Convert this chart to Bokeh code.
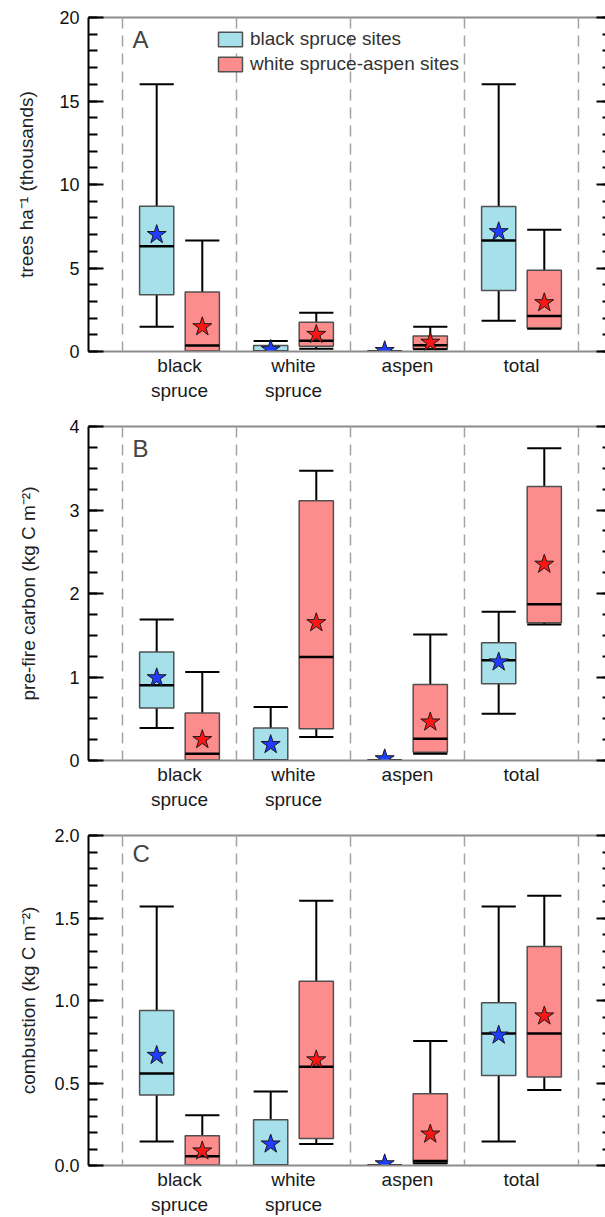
import numpy as np
from bokeh.plotting import figure
from bokeh.models import (Range1d, LinearAxis, SingleIntervalTicker, FixedTicker, Span, Label,
                          Legend, LegendItem, CustomJSTickFormatter, NumeralTickFormatter,
                          BasicTickFormatter, ColumnDataSource)
from bokeh.layouts import column
from bokeh.embed import file_html
from bokeh.resources import INLINE

# ---------------- data ----------------
categories = ["black spruce", "white spruce", "aspen", "total"]
series_names = ["black spruce sites", "white spruce-aspen sites"]

# Panel A: trees ha-1 (thousands)
a_bs_low  = [1.48, 0.00, 0.00, 1.84]
a_bs_q1   = [3.40, 0.00, 0.00, 3.66]
a_bs_med  = [6.30, 0.00, 0.00, 6.64]
a_bs_q3   = [8.70, 0.36, 0.00, 8.68]
a_bs_high = [16.0, 0.63, 0.00, 16.0]
a_bs_mean = [7.00, 0.12, 0.05, 7.17]
a_ws_low  = [0.00, 0.17, 0.14, 1.36]
a_ws_q1   = [0.00, 0.32, 0.16, 1.40]
a_ws_med  = [0.36, 0.65, 0.38, 2.13]
a_ws_q3   = [3.56, 1.75, 0.93, 4.86]
a_ws_high = [6.65, 2.32, 1.48, 7.29]
a_ws_mean = [1.48, 1.02, 0.55, 2.92]

# Panel B: pre-fire carbon (kg C m-2)
b_bs_low  = [0.39, 0.00, 0.00, 0.56]
b_bs_q1   = [0.63, 0.00, 0.00, 0.92]
b_bs_med  = [0.90, 0.00, 0.00, 1.20]
b_bs_q3   = [1.30, 0.39, 0.00, 1.41]
b_bs_high = [1.69, 0.64, 0.00, 1.78]
b_bs_mean = [0.99, 0.19, 0.02, 1.18]
b_ws_low  = [0.00, 0.28, 0.08, 1.63]
b_ws_q1   = [0.00, 0.38, 0.10, 1.65]
b_ws_med  = [0.08, 1.24, 0.26, 1.87]
b_ws_q3   = [0.57, 3.11, 0.91, 3.28]
b_ws_high = [1.06, 3.47, 1.51, 3.74]
b_ws_mean = [0.25, 1.65, 0.46, 2.35]

# Panel C: combustion (kg C m-2)
c_bs_low  = [0.146, 0.000, 0.000, 0.146]
c_bs_q1   = [0.427, 0.000, 0.000, 0.545]
c_bs_med  = [0.557, 0.000, 0.000, 0.800]
c_bs_q3   = [0.940, 0.277, 0.000, 0.986]
c_bs_high = [1.570, 0.449, 0.000, 1.570]
c_bs_mean = [0.667, 0.130, 0.010, 0.790]
c_ws_low  = [0.000, 0.130, 0.012, 0.457]
c_ws_q1   = [0.000, 0.164, 0.015, 0.537]
c_ws_med  = [0.056, 0.599, 0.028, 0.800]
c_ws_q3   = [0.180, 1.116, 0.435, 1.327]
c_ws_high = [0.305, 1.605, 0.754, 1.635]
c_ws_mean = [0.088, 0.640, 0.190, 0.906]

# ---------------- style ----------------
FONT = "Liberation Sans"
BLUE_FILL = "#a6e0ea"
RED_FILL = "#fd8d8d"
BLUE_STAR = "#1f3cff"
RED_STAR = "#ff1414"
BOX_LINE = "#505050"
GRAY = "#8c8c8c"

x_pos = list(range(1, len(categories) + 1))
boundaries = [i + 0.5 for i in range(len(categories) + 1)]
OFF = 0.2
BW = 0.3
EMPTY = CustomJSTickFormatter(code="return ''")


def panel(letter, ylab, ymax, interval, nminor, yfmt, lab_standoff, height, top, bottom,
          bs, ws, legend=False):
    p = figure(width=605, height=height, x_range=Range1d(0.2018, 4.737), y_range=Range1d(0, ymax),
               output_backend="svg", toolbar_location=None, min_border_left=88, min_border_right=0,
               min_border_top=top, min_border_bottom=bottom, outline_line_color=None,
               x_axis_location=None, y_axis_location=None,
               background_fill_color="white", border_fill_color="white")
    p.grid.visible = False

    for b in boundaries:
        p.add_layout(Span(location=b, dimension="height", line_color="#a3a3a3",
                          line_width=1.5, line_dash="11 7"))

    box_renderers = []
    star_sources = []
    xs_base = np.array(x_pos, dtype=float)
    for stats, sign, fill, star in [(bs, -1, BLUE_FILL, BLUE_STAR), (ws, 1, RED_FILL, RED_STAR)]:
        low, q1, med, q3, high, mean = stats
        xs = xs_base + sign * OFF
        src = ColumnDataSource(dict(x=xs, x0=xs - BW / 2, x1=xs + BW / 2, low=low, q1=q1,
                                    med=med, q3=q3, high=high, mean=mean))
        p.segment("x", "low", "x", "high", source=src, line_color="black", line_width=2)
        r = p.vbar(x="x", width=BW, bottom="q1", top="q3", source=src, fill_color=fill,
                   line_color=BOX_LINE, line_width=1.5)
        p.segment("x0", "med", "x1", "med", source=src, line_color="black", line_width=2.5)
        p.segment("x0", "low", "x1", "low", source=src, line_color="black", line_width=2)
        p.segment("x0", "high", "x1", "high", source=src, line_color="black", line_width=2)
        box_renderers.append(r)
        star_sources.append((src, star))
    for src, star in star_sources:
        p.scatter("x", "mean", source=src, marker="star", size=20, fill_color=star,
                  line_color="#1a1a1a", line_width=1)

    # left axis
    ya = LinearAxis(ticker=SingleIntervalTicker(interval=interval, num_minor_ticks=nminor),
                    formatter=yfmt,
                    major_tick_in=15, major_tick_out=0, minor_tick_in=9, minor_tick_out=0,
                    major_tick_line_width=2, minor_tick_line_width=2, axis_line_width=2,
                    axis_line_color="black", major_tick_line_color="black",
                    minor_tick_line_color="black", major_label_standoff=9,
                    major_label_text_font=FONT, major_label_text_font_size="18px",
                    major_label_text_color="#111111",
                    axis_label=ylab, axis_label_text_font=FONT, axis_label_text_font_size="19px",
                    axis_label_text_font_style="normal", axis_label_text_color="#222222",
                    axis_label_standoff=lab_standoff)
    p.add_layout(ya, "left")

    # right axis (ticks only)
    ra = LinearAxis(ticker=SingleIntervalTicker(interval=interval, num_minor_ticks=nminor),
                    formatter=EMPTY,
                    major_tick_in=9, major_tick_out=0, minor_tick_in=3, minor_tick_out=0,
                    major_tick_line_width=2, minor_tick_line_width=2, axis_line_color=None,
                    major_label_standoff=0)
    p.add_layout(ra, "right")

    # top border line
    ta = LinearAxis(ticker=FixedTicker(ticks=[]), major_tick_in=0, major_tick_out=0,
                    minor_tick_in=0, minor_tick_out=0, major_label_standoff=0,
                    axis_line_color=GRAY, axis_line_width=2)
    p.add_layout(ta, "above")

    # bottom axis with two-line category labels
    overrides = {x: c.replace(" ", "\n") for x, c in zip(x_pos, categories)}
    xa = LinearAxis(ticker=FixedTicker(ticks=x_pos), major_label_overrides=overrides,
                    major_tick_in=0, major_tick_out=0, minor_tick_in=0, minor_tick_out=0,
                    axis_line_color=GRAY, axis_line_width=2, major_label_standoff=3,
                    major_label_text_font=FONT, major_label_text_font_size="19px",
                    major_label_text_line_height=1.2, major_label_text_color="#1a1a1a")
    p.add_layout(xa, "below")

    # panel letter
    p.add_layout(Label(x=44, y=height - top - bottom - 35, x_units="screen", y_units="screen",
                       text=letter, text_font=FONT, text_font_size="24px", text_color="#444444"))

    if legend:
        lg = Legend(items=[LegendItem(label=series_names[0], renderers=[box_renderers[0]]),
                           LegendItem(label=series_names[1], renderers=[box_renderers[1]])],
                    location=(127, 275), orientation="vertical", padding=0, margin=0, spacing=0,
                    label_height=25, glyph_height=18, glyph_width=30, label_standoff=5,
                    label_text_font=FONT, label_text_font_size="19px", label_text_color="#333333",
                    border_line_color=None, background_fill_alpha=0)
        p.add_layout(lg)
    return p


pA = panel("A", "trees ha\u207b\u00b9 (thousands)", 20, 5, 5, BasicTickFormatter(), 19,
           417, 17, 66,
           (a_bs_low, a_bs_q1, a_bs_med, a_bs_q3, a_bs_high, a_bs_mean),
           (a_ws_low, a_ws_q1, a_ws_med, a_ws_q3, a_ws_high, a_ws_mean), legend=True)
pB = panel("B", "pre-fire carbon (kg C m\u207b\u00b2)", 4, 1, 4, BasicTickFormatter(), 27,
           409, 9, 66,
           (b_bs_low, b_bs_q1, b_bs_med, b_bs_q3, b_bs_high, b_bs_mean),
           (b_ws_low, b_ws_q1, b_ws_med, b_ws_q3, b_ws_high, b_ws_mean))
pC = panel("C", "combustion (kg C m\u207b\u00b2)", 2, 0.5, 5, NumeralTickFormatter(format="0.0"), 12,
           391, 9, 48,
           (c_bs_low, c_bs_q1, c_bs_med, c_bs_q3, c_bs_high, c_bs_mean),
           (c_ws_low, c_ws_q1, c_ws_med, c_ws_q3, c_ws_high, c_ws_mean))

layout = column(pA, pB, pC, spacing=0)
open("out.html", "w").write(file_html(layout, INLINE))
